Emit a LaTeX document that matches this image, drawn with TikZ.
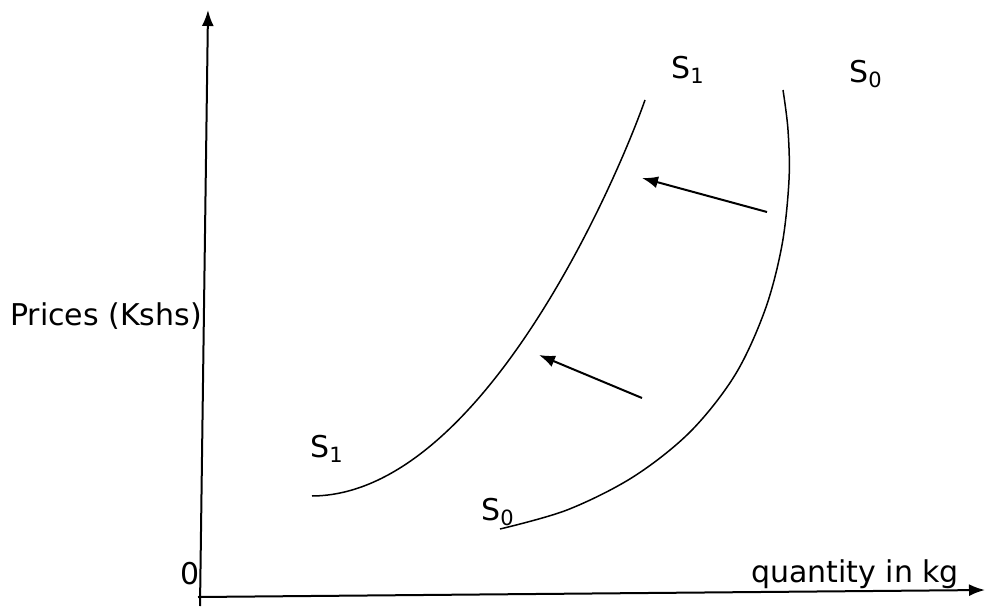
\documentclass[tikz,border=0pt]{standalone}
\usepackage{fontspec}
\setmainfont{DejaVu Sans}
\usepackage{tikz}
\usetikzlibrary{arrows.meta, positioning, calc}
\tikzset{>=Latex}

\begin{document}
\begin{tikzpicture}[x=0.5pt, y=-0.5pt,
   every node/.style={font=\fontsize{15}{18}\selectfont, inner sep=0pt},
   achse/.style={line width=1pt, -{Latex[length=8pt, width=6pt]}},
   kurve/.style={line width=0.75pt},
   verschiebung/.style={line width=1pt, -{Latex[length=8pt, width=6pt]}}]

   %%%%%%%%%%%%%%%%%%%%%%%%%%%%%%%%%%%%%%%%%%%%%%%%%%%%%%%%%%%%%%%%%%%%%%
   % Rahmen
   %%%%%%%%%%%%%%%%%%%%%%%%%%%%%%%%%%%%%%%%%%%%%%%%%%%%%%%%%%%%%%%%%%%%%%
   \useasboundingbox (0,0) rectangle (985,610);

   %%%%%%%%%%%%%%%%%%%%%%%%%%%%%%%%%%%%%%%%%%%%%%%%%%%%%%%%%%%%%%%%%%%%%%
   % Achsen
   %%%%%%%%%%%%%%%%%%%%%%%%%%%%%%%%%%%%%%%%%%%%%%%%%%%%%%%%%%%%%%%%%%%%%%
   \coordinate (YFuss) at (200,606);
   \coordinate (YSpitze) at (208,10);
   \coordinate (XFuss) at (198,597);
   \coordinate (XSpitze) at (985,590);

   \draw[achse] (YFuss) -- (YSpitze);
   \draw[achse] (XFuss) -- (XSpitze);

   \node (null) at (190,574) {0};
   \node (menge) at (855,574) {quantity in kg};
   \node (preis) at (106,316) {Prices (Kshs)};

   %%%%%%%%%%%%%%%%%%%%%%%%%%%%%%%%%%%%%%%%%%%%%%%%%%%%%%%%%%%%%%%%%%%%%%
   % Angebotskurve S0 (alt)
   %%%%%%%%%%%%%%%%%%%%%%%%%%%%%%%%%%%%%%%%%%%%%%%%%%%%%%%%%%%%%%%%%%%%%%
   \draw[kurve] plot[smooth, tension=0.55] coordinates {
      (500,529) (567,510) (633,477) (690,432) (735,375)
      (765,310) (782,245) (789,180) (788,130) (783,90)};

   \node (SnullOben) at (866,74) {S\textsubscript{0}};
   \node (SnullUnten) at (498,512) {S\textsubscript{0}};

   %%%%%%%%%%%%%%%%%%%%%%%%%%%%%%%%%%%%%%%%%%%%%%%%%%%%%%%%%%%%%%%%%%%%%%
   % Angebotskurve S1 (nach links verschoben)
   %%%%%%%%%%%%%%%%%%%%%%%%%%%%%%%%%%%%%%%%%%%%%%%%%%%%%%%%%%%%%%%%%%%%%%
   \coordinate (SeinsA) at (312,496);
   \coordinate (SeinsB) at (645,100);

   \draw[kurve] (SeinsA) .. controls (480,495) and (615,185) .. (SeinsB);

   \node (SeinsOben) at (688,70) {S\textsubscript{1}};
   \node (SeinsUnten) at (327,449) {S\textsubscript{1}};

   %%%%%%%%%%%%%%%%%%%%%%%%%%%%%%%%%%%%%%%%%%%%%%%%%%%%%%%%%%%%%%%%%%%%%%
   % Verschiebungspfeile
   %%%%%%%%%%%%%%%%%%%%%%%%%%%%%%%%%%%%%%%%%%%%%%%%%%%%%%%%%%%%%%%%%%%%%%
   \coordinate (ObenStart) at (767,212);
   \coordinate (ObenEnde) at (642,178);
   \coordinate (UntenStart) at (642,398);
   \coordinate (UntenEnde) at (539,355);

   \draw[verschiebung] (ObenStart) -- (ObenEnde);
   \draw[verschiebung] (UntenStart) -- (UntenEnde);

\end{tikzpicture}
\end{document}
